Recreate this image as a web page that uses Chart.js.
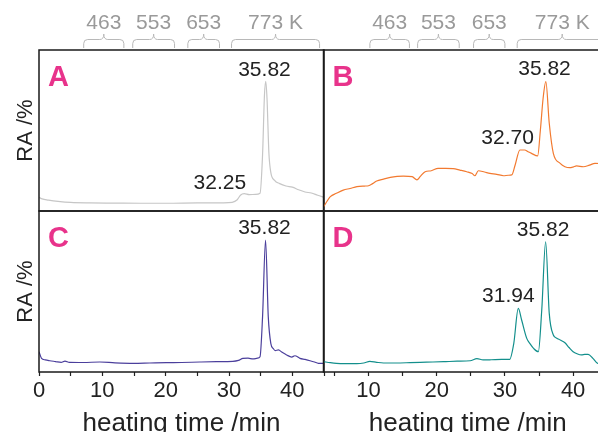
<!DOCTYPE html>
<html>
<head>
<meta charset="utf-8">
<script src="https://cdn.jsdelivr.net/npm/chart.js@4.4.1/dist/chart.umd.min.js"></script>
<style>
  html, body { margin: 0; padding: 0; background: #fff; overflow: hidden; }
  #wrap { position: relative; width: 598px; height: 432px; overflow: hidden; }
  #wrap canvas { position: absolute; left: 0; top: 0; }
</style>
</head>
<body>
<div id="wrap">
  <canvas id="cA" width="620" height="450"></canvas>
  <canvas id="cB" width="620" height="450"></canvas>
  <canvas id="cC" width="620" height="450"></canvas>
  <canvas id="cD" width="620" height="450"></canvas>
</div>
<script>
// heating time (min) and relative abundance (%)
const timeA = [0, 0.5, 1.5, 3, 5, 8, 12, 16, 20, 25, 29, 30.5, 31.3, 31.8, 32.4, 33.2, 34.2, 34.9, 35.3, 35.6, 35.8, 36.0, 36.3, 36.6, 37.2, 38, 39, 40, 41, 42, 43, 44, 45];
const raA = [8.5, 7.5, 6.8, 6.0, 5.3, 5.0, 4.9, 4.8, 4.8, 5.0, 5.1, 5.4, 7, 9.8, 10.8, 10.2, 10.3, 11, 35, 72, 80.5, 70, 36, 24, 19, 17, 15.5, 14.8, 13.2, 11.8, 11.2, 9.8, 8.5];

const timeB = [3.4, 4.4, 5.3, 6.3, 7.3, 8.3, 9.4, 10, 10.6, 11.2, 12.2, 13.2, 14.2, 15.1, 16.4, 17.1, 17.6, 18.3, 19.2, 20.2, 21.3, 22.4, 23.4, 24.4, 25.2, 25.6, 26.1, 27.0, 27.8, 28.8, 29.8, 30.5, 31.0, 31.5, 32.2, 32.9, 33.4, 33.9, 34.8, 35.2, 35.6, 36.0, 36.5, 37.1, 38.1, 38.8, 39.5, 40.0, 40.5, 41.5, 42.4, 43.2, 44.0, 45.7];
const raB = [2.5, 8.9, 11, 13, 14, 15.1, 15.5, 15.7, 17, 18.6, 19.8, 20.9, 21.5, 21.7, 21.3, 19.3, 21.5, 24.4, 25, 26.5, 26.5, 26.3, 25.4, 24.4, 23.3, 21.9, 25.0, 24.2, 23.4, 22.8, 21.9, 22.2, 22.4, 28.6, 37.9, 37.9, 36.8, 35.8, 34.2, 50.3, 70, 80.3, 54.5, 35.8, 29.6, 27.5, 26.9, 27.3, 28, 27.5, 28.5, 29.6, 29.5, 29];

const timeC = [0, 0.4, 1.0, 1.7, 2.6, 3.5, 4.1, 4.8, 7, 9.6, 12, 14.9, 17.5, 20.1, 22.5, 25.4, 28, 30.6, 31.5, 32.2, 33.0, 33.8, 34.5, 34.9, 35.3, 35.77, 36.2, 36.6, 37.0, 37.3, 37.8, 38.4, 39.1, 39.9, 40.4, 41.2, 42.0, 42.8, 43.5, 44.1, 45];
const raC = [12.6, 8.5, 7.5, 7.0, 6.5, 6.0, 6.8, 6.0, 5.9, 6.2, 5.7, 5.4, 5.6, 5.8, 5.9, 6.2, 6.4, 6.6, 7.2, 8.5, 8.6, 8.1, 8.6, 9.5, 34.4, 82, 34.4, 17.8, 14.5, 13.3, 13.7, 12.2, 10.6, 9.3, 10.1, 8.5, 7.8, 7.0, 6.2, 5.4, 5.4];

const timeD = [3.4, 4.4, 5.3, 6.3, 7.3, 8.3, 9.3, 10.2, 11.2, 12.2, 14, 16.1, 18.5, 21, 23, 24.9, 25.9, 26.8, 28, 29.5, 30.7, 31.3, 31.96, 32.45, 33.2, 33.7, 34.2, 34.9, 35.4, 35.97, 36.5, 37.1, 37.6, 38.1, 38.8, 39.4, 40.0, 40.6, 41.2, 41.7, 42.2, 42.9, 43.6, 45.7];
const raD = [6.4, 5.8, 5.4, 5.2, 5.2, 5.2, 5.6, 6.6, 6.0, 5.6, 5.6, 5.8, 6.1, 6.4, 6.7, 7.0, 8.3, 7.5, 7.6, 7.8, 7.9, 17.8, 39.5, 32.3, 20.9, 17.5, 14.7, 12.6, 38.5, 80.9, 36.4, 23.0, 21.0, 19.9, 18.2, 15.2, 12.6, 11.3, 10.6, 10.9, 11.0, 8.5, 5.4, 5];

// temperature stages shown over the top panels (time ranges in min)
const stageLabels = ['463', '553', '653', '773 K'];
const stageStartL = [7.06, 14.8, 23.5, 30.4];
const stageEndL = [13.4, 21.4, 28.5, 44.3];
const stageStartR = [10.2, 17.2, 25.4, 31.8];
const stageEndR = [16.0, 23.3, 30.0, 45.0];

const FONT = "'Liberation Sans', Arial, Helvetica, sans-serif";
Chart.defaults.font.family = FONT;

function brace(ctx, x1, x2, yEnd, yBar, yTip) {
  const xm = (x1 + x2) / 2, r = 4;
  ctx.beginPath();
  ctx.moveTo(x1, yEnd);
  ctx.lineTo(x1, yBar + r);
  ctx.quadraticCurveTo(x1, yBar, x1 + r, yBar);
  ctx.lineTo(xm - r, yBar);
  ctx.quadraticCurveTo(xm, yBar, xm, yTip);
  ctx.quadraticCurveTo(xm, yBar, xm + r, yBar);
  ctx.lineTo(x2 - r, yBar);
  ctx.quadraticCurveTo(x2, yBar, x2, yBar + r);
  ctx.lineTo(x2, yEnd);
  ctx.stroke();
}

// frame, panel letter, peak labels and stage braces
const deco = {
  id: 'deco',
  afterDatasetsDraw(chart, args, o) {
    const { ctx, chartArea: a, scales: { x, y } } = chart;
    ctx.save();
    ctx.strokeStyle = '#1a1a1a';
    ctx.lineWidth = 1.5;
    ctx.strokeRect(a.left, a.top, a.right - a.left, a.bottom - a.top);

    ctx.fillStyle = '#e8338b';
    ctx.font = 'bold 29px ' + FONT;
    ctx.textAlign = 'left';
    ctx.textBaseline = 'alphabetic';
    ctx.fillText(o.letter, a.left + 9, a.top + 36);

    ctx.fillStyle = '#222';
    ctx.font = '21px ' + FONT;
    ctx.textAlign = 'center';
    o.peaks.forEach(p => ctx.fillText(p.text, x.getPixelForValue(p.x), y.getPixelForValue(p.y)));

    if (o.stages) {
      ctx.strokeStyle = '#b8b8b8';
      ctx.lineWidth = 1;
      ctx.fillStyle = '#9a9a9a';
      o.stages.start.forEach((s, i) => {
        const x1 = x.getPixelForValue(s), x2 = x.getPixelForValue(o.stages.end[i]);
        brace(ctx, x1, x2, 48, 39.5, 34);
        ctx.fillText(stageLabels[i], (x1 + x2) / 2, 29);
      });
    }
    ctx.restore();
  }
};

function panel(id, cfg) {
  return new Chart(document.getElementById(id), {
    type: 'line',
    data: {
      datasets: [{
        data: cfg.time.map((t, i) => ({ x: t, y: cfg.ra[i] })),
        borderColor: cfg.color,
        borderWidth: 1.2,
        pointRadius: 0,
        cubicInterpolationMode: 'monotone',
        fill: false
      }]
    },
    options: {
      responsive: false,
      animation: false,
      layout: { padding: cfg.pad },
      plugins: {
        legend: { display: false },
        tooltip: { enabled: false },
        deco: { letter: cfg.letter, peaks: cfg.peaks, stages: cfg.stages }
      },
      scales: {
        x: {
          type: 'linear',
          min: cfg.xr[0],
          max: cfg.xr[1],
          display: cfg.bottom,
          border: { display: false },
          grid: { drawOnChartArea: false, tickLength: 4, tickColor: '#222', tickWidth: 1.2 },
          ticks: {
            stepSize: 5, includeBounds: false, padding: 2, color: '#222',
            font: { size: 22 }, maxRotation: 0, autoSkip: false,
            callback: v => (v % 10 === 0 ? v : '')
          },
          title: { display: true, text: 'heating time /min', color: '#222', font: { size: 26 }, padding: { top: 0, bottom: 11 } },
          afterFit: s => { if (cfg.bottom) s.height = 78; }
        },
        y: {
          min: 0,
          max: 100,
          display: cfg.left,
          border: { display: false },
          grid: { display: false },
          ticks: { display: false },
          title: { display: true, text: 'RA /%', color: '#222', font: { size: 22 }, padding: { top: 13, bottom: 0 } },
          afterFit: s => { if (cfg.left) s.width = 39; }
        }
      }
    },
    plugins: [deco]
  });
}

panel('cA', {
  time: timeA, ra: raA, color: '#c6c6c6', letter: 'A', left: true, bottom: false, xr: [0, 45],
  pad: { left: 0, top: 50, right: 296, bottom: 239 },
  peaks: [{ text: '35.82', x: 35.6, y: 83.9 }, { text: '32.25', x: 28.55, y: 13.7 }],
  stages: { start: stageStartL, end: stageEndL }
});
panel('cB', {
  time: timeB, ra: raB, color: '#f27a30', letter: 'B', left: false, bottom: false, xr: [3.4, 45.7],
  pad: { left: 323.5, top: 50, right: 8, bottom: 239 },
  peaks: [{ text: '35.82', x: 35.8, y: 84.5 }, { text: '32.70', x: 30.4, y: 41.6 }],
  stages: { start: stageStartR, end: stageEndR }
});
panel('cC', {
  time: timeC, ra: raC, color: '#4b3f9c', letter: 'C', left: true, bottom: true, xr: [0, 45],
  pad: { left: 0, top: 211, right: 296, bottom: 0 },
  peaks: [{ text: '35.82', x: 35.6, y: 85.7 }]
});
panel('cD', {
  time: timeD, ra: raD, color: '#138f8c', letter: 'D', left: false, bottom: true, xr: [3.4, 45.7],
  pad: { left: 323.5, top: 211, right: 8, bottom: 0 },
  peaks: [{ text: '35.82', x: 35.6, y: 84.5 }, { text: '31.94', x: 30.5, y: 43.5 }]
});
</script>
</body>
</html>
